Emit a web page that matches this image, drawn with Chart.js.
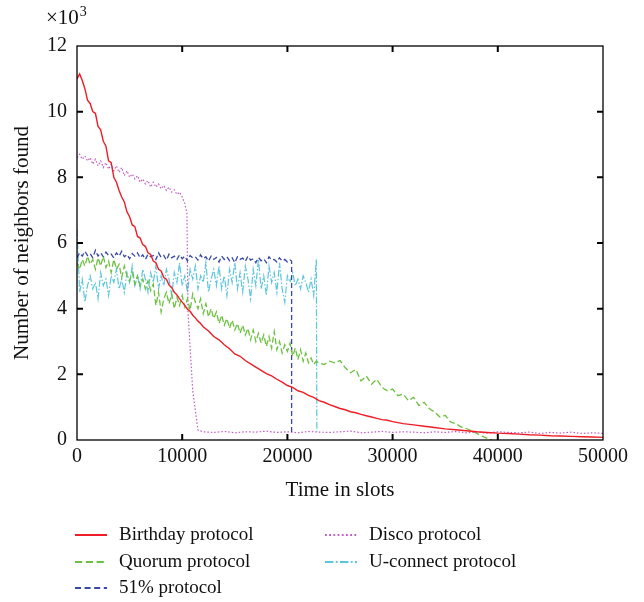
<!DOCTYPE html>
<html>
<head>
<meta charset="utf-8">
<script src="https://cdn.jsdelivr.net/npm/chart.js@4.4.1/dist/chart.umd.min.js"></script>
<style>
  body { margin: 0; background: #fff; }
  #wrap { width: 644px; height: 602px; }
</style>
</head>
<body>
<div id="wrap"><canvas id="neighborsChart" width="644" height="602"></canvas></div>
<script>
  // time grid helper (slot positions only, values are typed below)
  function steps(from, to, step) {
      const out = [];
      for (let t = from; t <= to; t += step) out.push(t);
      return out;
  }

  const xTicks = [0, 10000, 20000, 30000, 40000, 50000];
  const yTicks = [0, 2, 4, 6, 8, 10, 12];

  // Birthday protocol (x10^3 neighbors)
  const birthdayT = steps(0, 12000, 250).concat(steps(12500, 30000, 500), steps(31000, 50000, 1000));
  const birthdayV = [
      11.0, 11.15, 10.95, 10.7, 10.35, 10.25, 10.0, 9.95, 9.55, 9.45,
      9.1, 8.95, 8.5, 8.45, 8.0, 7.85, 7.6, 7.4, 7.25, 6.95,
      6.8, 6.55, 6.5, 6.2, 6.15, 5.95, 5.9, 5.7, 5.65, 5.45,
      5.4, 5.2, 5.15, 4.95, 4.9, 4.72, 4.65, 4.5, 4.42, 4.3,
      4.2, 4.1, 3.98, 3.92, 3.8, 3.72, 3.62, 3.55, 3.45,
      3.32, 3.15, 3.05, 2.9, 2.78, 2.62, 2.55, 2.42, 2.32, 2.22,
      2.12, 2.02, 1.95, 1.85, 1.76, 1.66, 1.6, 1.5, 1.45, 1.36,
      1.3, 1.2, 1.15, 1.08, 1.02, 0.96, 0.92, 0.86, 0.83, 0.78,
      0.74, 0.7, 0.66, 0.62, 0.6, 0.56,
      0.5, 0.46, 0.42, 0.38, 0.34, 0.31, 0.28, 0.25, 0.23, 0.21,
      0.2, 0.18, 0.16, 0.15, 0.13, 0.12, 0.11, 0.1, 0.09, 0.08
  ];

  // Quorum protocol
  const quorumT = steps(0, 23000, 250).concat(steps(23500, 39500, 500));
  const quorumV = [
      5.4, 5.2, 5.5, 5.3, 5.6, 5.35, 5.5, 5.2, 5.55, 5.3,
      5.6, 5.25, 5.45, 5.1, 5.5, 5.2, 5.35, 4.95, 5.3, 5.0,
      4.85, 5.1, 4.75, 5.0, 4.7, 4.9, 4.6, 4.85, 4.55, 4.75,
      4.1, 4.5, 3.9, 4.3, 4.5, 4.15, 4.45, 4.0, 4.35, 4.1,
      4.4, 4.05, 4.3, 3.95, 4.45, 4.2, 4.0, 4.3, 3.85, 4.15,
      3.75, 4.0, 3.7, 3.9, 3.55, 3.8, 3.5, 3.7, 3.4, 3.65,
      3.35, 3.55, 3.25, 3.5, 3.2, 3.4, 3.05, 3.35, 3.0, 3.25,
      2.95, 3.2, 2.85, 3.15, 2.8, 3.3, 2.75, 3.0, 2.65, 2.9,
      2.7, 2.95, 2.55, 2.8, 2.45, 2.75, 2.4, 2.65, 2.35, 2.5,
      2.3, 2.4, 2.35,
      2.3, 2.4, 2.35, 2.42, 2.2, 2.05, 2.15, 1.8, 1.95, 1.7,
      1.85, 1.6, 1.5, 1.55, 1.35, 1.4, 1.2, 1.3, 1.05, 1.15,
      0.95, 0.85, 0.7, 0.75, 0.55, 0.5, 0.4, 0.35, 0.28, 0.2,
      0.12, 0.05, 0.0
  ];

  // 51% protocol
  const fiftyOneT = steps(0, 20250, 250).concat([20400, 20400]);
  const fiftyOneV = [
      5.55, 5.7, 5.6, 5.75, 5.62, 5.68, 5.55, 5.78, 5.6, 5.7,
      5.58, 5.72, 5.62, 5.66, 5.55, 5.7, 5.6, 5.75, 5.58, 5.65,
      5.52, 5.68, 5.6, 5.7, 5.55, 5.64, 5.5, 5.66, 5.58, 5.62,
      5.5, 5.7, 5.56, 5.62, 5.48, 5.66, 5.55, 5.6, 5.5, 5.64,
      5.52, 5.6, 5.45, 5.62, 5.55, 5.58, 5.48, 5.64, 5.52, 5.58,
      5.45, 5.6, 5.5, 5.56, 5.42, 5.6, 5.5, 5.58, 5.46, 5.55,
      5.4, 5.58, 5.5, 5.54, 5.44, 5.6, 5.48, 5.52, 5.4, 5.56,
      5.46, 5.52, 5.4, 5.58, 5.48, 5.5, 5.42, 5.55, 5.45, 5.5,
      5.42, 5.48, 5.45, 0.22
  ];

  // Disco protocol
  const discoT = steps(0, 10250, 250).concat([10450, 10550, 11000, 11500], steps(12000, 50000, 1000));
  const discoV = [
      8.6, 8.7, 8.55, 8.65, 8.5, 8.6, 8.4, 8.55, 8.35, 8.5,
      8.3, 8.45, 8.25, 8.4, 8.2, 8.35, 8.15, 8.3, 8.05, 8.2,
      8.0, 8.1, 7.95, 8.05, 7.85, 7.95, 7.8, 7.9, 7.7, 7.85,
      7.7, 7.8, 7.65, 7.75, 7.6, 7.7, 7.55, 7.62, 7.48, 7.55,
      7.4, 7.2,
      6.9, 3.9, 1.5, 0.3,
      0.25, 0.23, 0.26, 0.22, 0.25, 0.24, 0.27, 0.23, 0.25, 0.22,
      0.26, 0.24, 0.23, 0.25, 0.27, 0.22, 0.24, 0.26, 0.23, 0.25,
      0.24, 0.22, 0.25, 0.23, 0.26, 0.22, 0.24, 0.21, 0.25, 0.23,
      0.22, 0.24, 0.2, 0.23, 0.21, 0.24, 0.2, 0.22, 0.2
  ];

  // U-connect protocol
  const uconnectT = steps(0, 22750, 250).concat([22800]);
  const uconnectV = [
      6.4, 4.5, 4.9, 4.2, 4.7, 5.0, 4.6, 4.8, 4.3, 5.1,
      4.7, 4.9, 4.4, 5.0, 4.8, 5.2, 4.6, 4.9, 4.5, 5.1,
      4.8, 5.3, 4.7, 5.0, 4.6, 5.2, 4.9, 4.5, 5.1, 4.8,
      5.3, 4.6, 5.0, 4.7, 5.2, 4.9, 4.4, 5.1, 4.8, 5.4,
      4.7, 5.0, 4.5, 5.2, 4.9, 5.3, 4.6, 5.0, 4.8, 5.4,
      4.5, 4.9, 5.2, 4.7, 5.3, 4.6, 5.0, 4.4, 5.2, 4.8,
      5.4, 4.6, 5.1, 4.5, 5.3, 4.9, 4.3, 5.2, 4.7, 5.5,
      4.6, 5.0, 4.4, 5.3, 4.8, 5.1, 4.5, 5.4, 4.6, 4.2,
      5.0, 4.8, 5.1, 4.7, 4.9, 4.6, 5.0, 4.8, 4.5, 4.9,
      4.4, 5.5, 0.25
  ];

  const series = [
      { label: 'Birthday protocol', t: birthdayT, v: birthdayV, color: '#ee1d26', width: 1.4, dash: [] },
      { label: 'Quorum protocol', t: quorumT, v: quorumV, color: '#6cc13f', width: 1.3, dash: [6, 3] },
      { label: '51% protocol', t: fiftyOneT, v: fiftyOneV, color: '#3848a6', width: 1.3, dash: [5, 3] },
      { label: 'Disco protocol', t: discoT, v: discoV, color: '#c25ac2', width: 1.2, dash: [1.5, 2] },
      { label: 'U-connect protocol', t: uconnectT, v: uconnectV, color: '#5cc6dc', width: 1.2, dash: [7, 2, 1.5, 2] }
  ];

  const serif = "'Liberation Serif', 'DejaVu Serif', serif";

  // box, inward ticks, exponent label and legend
  const framePlugin = {
      id: 'frame',
      afterDraw(chart) {
          const { ctx, chartArea: a, scales } = chart;
          ctx.save();
          ctx.strokeStyle = '#000';
          ctx.lineWidth = 1.3;
          ctx.setLineDash([]);
          ctx.strokeRect(a.left, a.top, a.right - a.left, a.bottom - a.top);
          ctx.lineWidth = 2;
          ctx.beginPath();
          xTicks.slice(1, -1).forEach(v => {
              const x = scales.x.getPixelForValue(v);
              ctx.moveTo(x, a.bottom); ctx.lineTo(x, a.bottom - 6);
              ctx.moveTo(x, a.top); ctx.lineTo(x, a.top + 6);
          });
          yTicks.slice(1, -1).forEach(v => {
              const y = scales.y.getPixelForValue(v);
              ctx.moveTo(a.left, y); ctx.lineTo(a.left + 6, y);
              ctx.moveTo(a.right, y); ctx.lineTo(a.right - 6, y);
          });
          ctx.stroke();

          // x10^3
          ctx.fillStyle = '#111';
          ctx.textBaseline = 'alphabetic';
          ctx.textAlign = 'left';
          ctx.font = '21px ' + serif;
          ctx.fillText('×10', 46, 24);
          const w = ctx.measureText('×10').width;
          ctx.font = '14px ' + serif;
          ctx.fillText('3', 46 + w + 1, 16);

          // legend
          const cols = [75, 325];
          const rows = [535, 562, 588];
          const order = [[0, 0, 0], [1, 0, 1], [2, 0, 2], [3, 1, 0], [4, 1, 1]];
          ctx.font = '19px ' + serif;
          ctx.textBaseline = 'middle';
          order.forEach(([i, c, r]) => {
              const s = series[i];
              const x = cols[c], y = rows[r];
              ctx.strokeStyle = s.color;
              ctx.lineWidth = 2;
              ctx.setLineDash(s.dash.length ? s.dash.map(d => d * 1.2) : []);
              ctx.beginPath();
              ctx.moveTo(x, y); ctx.lineTo(x + 32, y);
              ctx.stroke();
              ctx.setLineDash([]);
              ctx.fillStyle = '#111';
              ctx.fillText(s.label, x + 44, y);
          });
          ctx.restore();
      }
  };

  const ctx = document.getElementById('neighborsChart').getContext('2d');

  const chart = new Chart(ctx, {
      type: 'line',
      data: {
          datasets: series.map(s => ({
              label: s.label,
              data: s.t.map((t, i) => ({ x: t, y: s.v[i] })),
              borderColor: s.color,
              borderWidth: s.width,
              borderDash: s.dash,
              pointRadius: 0,
              tension: 0,
              fill: false
          }))
      },
      options: {
          responsive: false,
          animation: false,
          layout: {
              padding: { left: 0, right: 41, top: 46, bottom: 95 }
          },
          plugins: {
              legend: { display: false },
              tooltip: { enabled: false }
          },
          scales: {
              x: {
                  type: 'linear',
                  min: 0,
                  max: 50000,
                  afterFit: scale => { scale.height = 67; },
                  afterBuildTicks: scale => { scale.ticks = xTicks.map(v => ({ value: v })); },
                  grid: { display: false, drawTicks: false },
                  border: { display: false },
                  ticks: {
                      padding: 5,
                      color: '#111',
                      font: { family: serif, size: 20 },
                      maxRotation: 0,
                      callback: v => String(v)
                  },
                  title: {
                      display: true,
                      text: 'Time in slots',
                      color: '#111',
                      font: { family: serif, size: 21 },
                      padding: { top: 4, bottom: 4 }
                  }
              },
              y: {
                  min: 0,
                  max: 12,
                  afterFit: scale => { scale.width = 77; },
                  afterBuildTicks: scale => { scale.ticks = yTicks.map(v => ({ value: v })); },
                  grid: { display: false, drawTicks: false },
                  border: { display: false },
                  ticks: {
                      padding: 10,
                      color: '#111',
                      font: { family: serif, size: 20 },
                      callback: v => String(v)
                  },
                  title: {
                      display: true,
                      text: 'Number of neighbors found',
                      color: '#111',
                      font: { family: serif, size: 21 },
                      padding: { top: 10, bottom: 0 }
                  }
              }
          }
      },
      plugins: [framePlugin]
  });
</script>
</body>
</html>
